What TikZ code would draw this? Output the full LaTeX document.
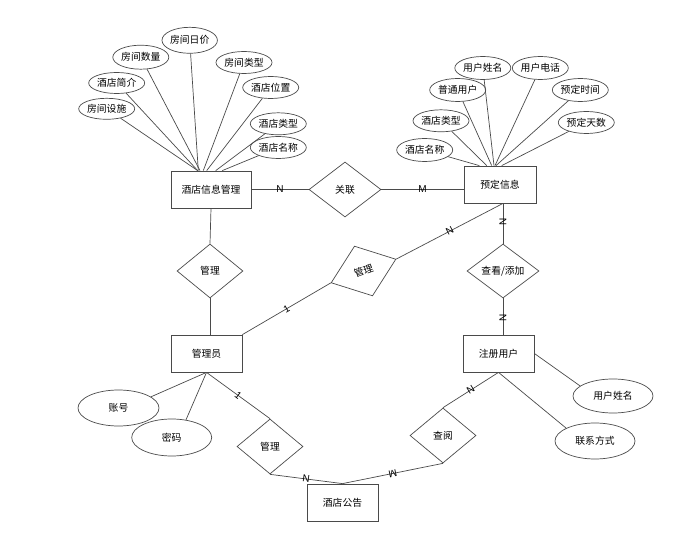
\documentclass[tikz,border=0pt]{standalone}
\usepackage{fontspec}
\newfontfamily\cjk{Noto Sans CJK SC}
\newfontfamily\lat{Liberation Sans}
\usetikzlibrary{shapes.geometric,calc}
\definecolor{ln}{HTML}{4A4A4A}
\begin{document}
\begin{tikzpicture}[x=1pt,y=-1pt,
  every node/.style={font=\cjk\fontsize{9.8}{11}\selectfont, text=black},
  ent/.style={draw=ln, line width=0.8pt, rectangle, inner sep=0},
  attr/.style={draw=ln, line width=0.7pt, ellipse, inner sep=0, minimum width=56, minimum height=22},
  bigattr/.style={draw=ln, line width=0.7pt, ellipse, inner sep=0, minimum width=80, minimum height=36},
  rel/.style={draw=ln, line width=0.7pt, diamond, aspect=1, inner sep=0},
  lab/.style={font=\lat\fontsize{10}{10}\selectfont, inner sep=0},
  conn/.style={draw=ln, line width=0.7pt}]
\useasboundingbox (0,0) rectangle (696,545);

% entities
\node[ent, minimum width=80, minimum height=37] (hm) at (211,189.5) {酒店信息管理};
\node[ent, minimum width=72, minimum height=37] (yd) at (500,184.5) {预定信息};
\node[ent, minimum width=71, minimum height=37] (gly) at (206.5,353.5) {管理员};
\node[ent, minimum width=71, minimum height=37] (zc) at (498.5,353.5) {注册用户};
\node[ent, minimum width=71, minimum height=37] (gg) at (342.5,502.5) {酒店公告};

% relations
\node[rel, minimum width=72, minimum height=55] (gl) at (345,189.5) {关联};
\node[rel, minimum width=66, minimum height=54] (d1) at (210,271) {管理};
\node[rel, minimum width=69, minimum height=53, rotate=20] (d2) at (363.5,271) {管理};
\node[rel, minimum width=72, minimum height=54] (d3) at (503,271) {查看/添加};
\node[rel, minimum width=66, minimum height=55] (d4) at (270,446.5) {管理};
\node[rel, minimum width=66, minimum height=55] (d5) at (443,435.5) {查阅};

% attributes of 酒店信息管理
\node[attr, minimum height=21] (a1) at (106.7,108.8) {房间设施};
\node[attr, minimum height=21] (a2) at (116.7,83) {酒店简介};
\node[attr, minimum height=24] (a3) at (140.8,57.2) {房间数量};
\node[attr, minimum width=51, minimum height=26] (a4) at (189.7,40.3) {房间日价};
\node[attr] (a5) at (244,62.5) {房间类型};
\node[attr] (a6) at (270.7,87.5) {酒店位置};
\node[attr] (a7) at (278.3,123.8) {酒店类型};
\node[attr] (a8) at (278.3,147.5) {酒店名称};

\draw[conn] (a1) -- ($(hm.north)+(-13.3,0)$);
\draw[conn] (a2) -- ($(hm.north)+(-13.3,0)$);
\draw[conn] (a3) -- ($(hm.north)+(-11,0)$);
\draw[conn] (a4) -- ($(hm.north)+(-12.7,0)$);
\draw[conn] (a5) -- ($(hm.north)+(-7.7,0)$);
\draw[conn] (a6) -- ($(hm.north)+(-4.3,0)$);
\draw[conn] (a7) -- ($(hm.north)+(4.7,0)$);
\draw[conn] (a8) -- ($(hm.north)+(11.3,0)$);

% attributes of 预定信息
\node[attr, minimum height=23] (b1) at (424.7,150) {酒店名称};
\node[attr] (b2) at (441,120.8) {酒店类型};
\node[attr, minimum height=23] (b3) at (457.7,90) {普通用户};
\node[attr, minimum height=23] (b4) at (482.8,68) {用户姓名};
\node[attr, minimum height=23] (b5) at (540.3,68) {用户电话};
\node[attr, minimum height=23] (b6) at (580.3,90) {预定时间};
\node[attr] (b7) at (586.3,122.5) {预定天数};

\draw[conn] (b1) -- ($(yd.north)+(-20.7,0)$);
\draw[conn] (b2) -- ($(yd.north)+(-13.3,0)$);
\draw[conn] (b3) -- ($(yd.north)+(-8.3,0)$);
\draw[conn] (b4) -- ($(yd.north)+(-6,0)$);
\draw[conn] (b5) -- ($(yd.north)+(-5,0)$);
\draw[conn] (b6) -- ($(yd.north)+(-4,0)$);
\draw[conn] (b7) -- ($(yd.north)+(1.7,0)$);

% bottom attributes
\node[bigattr, minimum width=81] (c1) at (118.5,408) {账号};
\node[bigattr, minimum height=37] (c2) at (171.7,437.5) {密码};
\node[bigattr, minimum height=34] (c3) at (613,396) {用户姓名};
\node[bigattr] (c4) at (595,441) {联系方式};

\draw[conn] (gly.south) -- (c1.19);
\draw[conn] (gly.south) -- (c2.51);
\draw[conn] (zc.east) -- (c3.163);
\draw[conn] (zc.south) -- (c4.156);

% relationship connectors
\draw[conn] (hm.east) -- node[lab] {N} (gl.west);
\draw[conn] (gl.east) -- node[lab] {M} (gl.east -| yd.west);
\draw[conn] (hm.south) -- (d1.north);
\draw[conn] (d1.south) -- (d1.south |- gly.north);
\draw[conn] (gly.north east) -- node[lab, rotate=30] {1} (d2.west);
\draw[conn] (d2.east) -- node[lab, rotate=27.6] {N} (d3.north |- yd.south);
\draw[conn] (d3.north |- yd.south) -- node[lab, rotate=90, pos=0.47] {N} (d3.north);
\draw[conn] (d3.south) -- node[lab, rotate=90, pos=0.55] {N} (d3.south |- zc.north);
\draw[conn] (gly.south) -- node[lab, rotate=-38] {1} (d4.north);
\draw[conn] (d4.south) -- node[lab, rotate=-8] {N} (gg.north);
\draw[conn] (gg.north) -- node[lab, rotate=192.5] {M} (d5.south);
\draw[conn] (d5.north) -- node[lab, rotate=31.5] {N} (zc.south);
\end{tikzpicture}
\end{document}
